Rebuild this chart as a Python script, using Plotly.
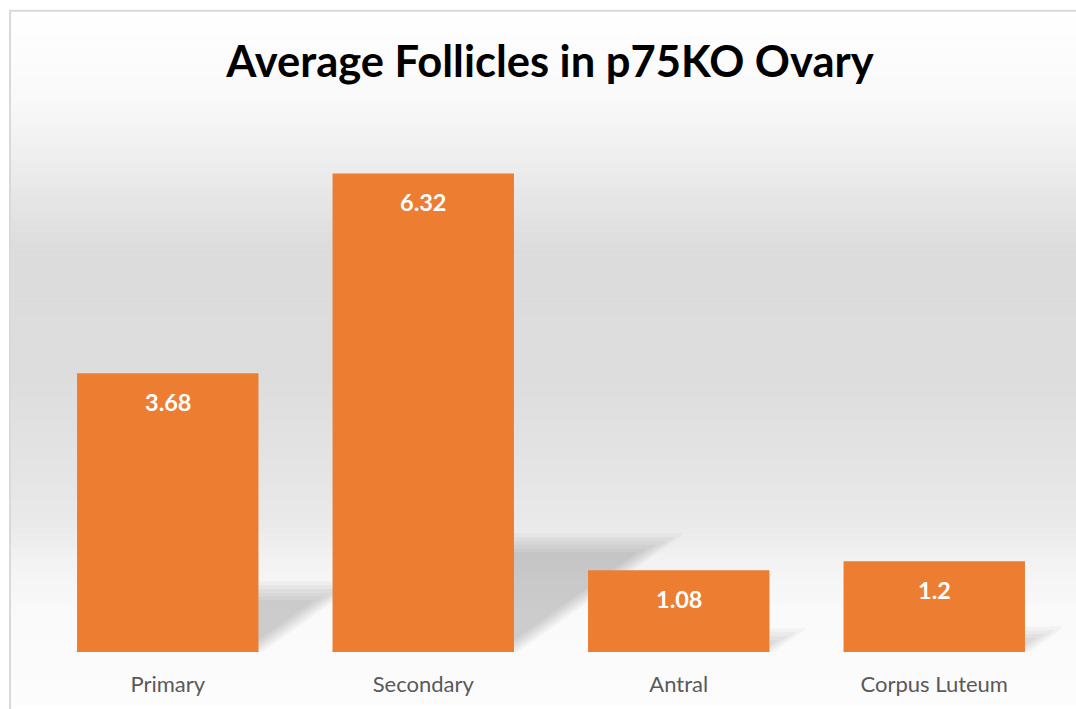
import plotly.graph_objects as go

W, H = 1076, 709

categories = ["Primary", "Secondary", "Antral", "Corpus Luteum"]
values = [3.68, 6.32, 1.08, 1.2]
labels = ["3.68", "6.32", "1.08", "1.2"]

BAR = "#ED7D31"
M_L, M_R, M_T, M_B = 40, 14, 122, 53
Y_MAX = 7
BAR_W = 0.71


def py(pix):
    # figure pixel row -> paper y
    return (H - M_B - pix) / (H - M_T - M_B)


def px(pix):
    return (pix - M_L) / (W - M_L - M_R)


def mix(c1, c2, t):
    return "rgb(%d,%d,%d)" % tuple(round(a + (b - a) * t) for a, b in zip(c1, c2))


# background wall gradient (pixel row, grey level)
stops = [(10, 255), (100, 249), (160, 238), (250, 220), (380, 221),
         (480, 229), (530, 234), (565, 243), (620, 250), (709, 252)]

shapes = []
for (y0, g0), (y1, g1) in zip(stops[:-1], stops[1:]):
    n = max(1, (y1 - y0) // 6)
    for k in range(n):
        a = y0 + (y1 - y0) * k / n
        b = y0 + (y1 - y0) * (k + 1) / n
        g = mix((g0,) * 3, (g1,) * 3, (k + 0.5) / n)
        shapes.append(dict(type="rect", xref="paper", yref="paper", layer="below",
                           x0=px(10), x1=px(W + 20), y0=py(a), y1=py(b + 0.6),
                           fillcolor=g, line_width=0))

# chart frame
shapes.append(dict(type="rect", xref="paper", yref="paper", layer="below",
                   x0=px(10), x1=px(W + 20), y0=py(H + 20), y1=py(10),
                   fillcolor="rgba(0,0,0,0)", line=dict(color="#d9d9d9", width=2)))

# soft perspective shadows cast behind each bar
for i, v in enumerate(values):
    h = 0.24 * v
    s = 0.1 * v
    for k in range(6):
        dx = 0.016 * (k - 1)
        dy = 0.05 * (k - 1)
        xl, xr = i - BAR_W / 2 + dx, i + BAR_W / 2 - dx
        top = h - dy
        path = "M %f,0 L %f,0 L %f,%f L %f,%f Z" % (
            xl, xr, xr + s * top / h, top, xl + s * top / h, top)
        shapes.append(dict(type="path", xref="x", yref="y", layer="below", path=path,
                           fillcolor="rgba(0,0,0,0.032)", line_width=0))

fig = go.Figure(go.Bar(
    x=list(range(len(categories))), y=values, width=BAR_W,
    marker=dict(color=BAR, line=dict(width=0)),
    hoverinfo="skip",
))

annotations = [dict(x=i, y=v, text="<b>%s</b>" % t, showarrow=False, yshift=-29,
                    font=dict(family="Lato", size=23.5, color="white"))
               for i, (v, t) in enumerate(zip(values, labels))]

fig.update_layout(
    width=W, height=H,
    margin=dict(l=M_L, r=M_R, t=M_T, b=M_B),
    paper_bgcolor="white",
    plot_bgcolor="rgba(0,0,0,0)",
    showlegend=False,
    title=dict(text="<b>Average Follicles in p75KO Ovary</b>",
               x=550 / W, xanchor="center", y=1 - 62 / H, yanchor="middle",
               font=dict(family="Lato", size=43.5, color="black")),
    xaxis=dict(tickvals=list(range(len(categories))), ticktext=categories,
               range=[-0.5, len(categories) - 0.5], showgrid=False, zeroline=False,
               showline=False, ticks="", ticklen=0, ticklabelstandoff=17,
               tickfont=dict(family="Lato", size=22, color="#595959")),
    yaxis=dict(range=[0, Y_MAX], visible=False, showgrid=False, zeroline=False),
    shapes=shapes,
    annotations=annotations,
)

fig.write_html("out.html", config={"displayModeBar": False},
               post_script="document.body.style.margin='0';")
